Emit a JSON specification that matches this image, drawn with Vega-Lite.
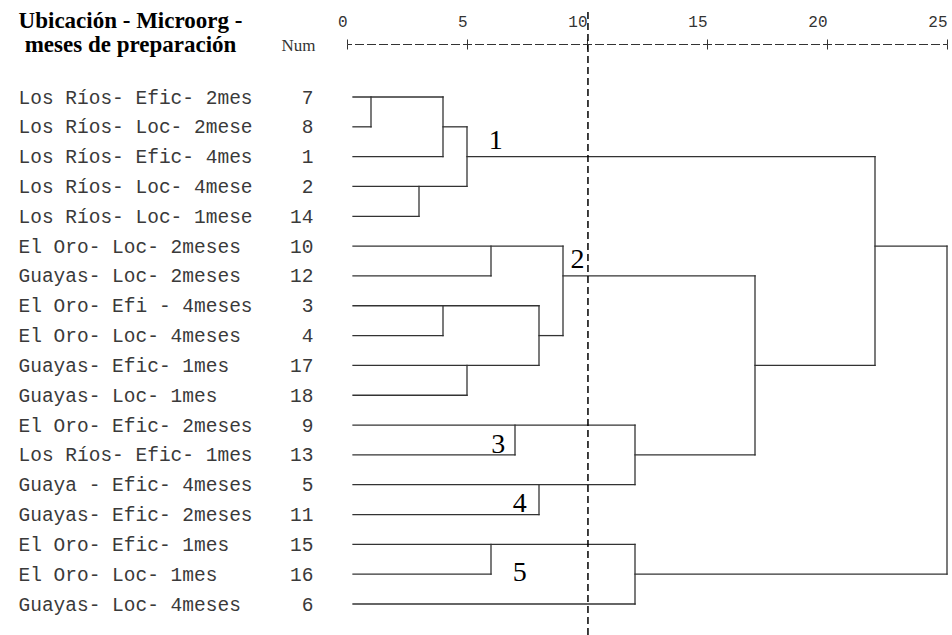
{
  "$schema": "https://vega.github.io/schema/vega-lite/v6.json",
  "width": 600,
  "height": 623,
  "autosize": {"type": "none"},
  "padding": {"left": 347, "top": 12, "right": 5, "bottom": 0},
  "background": "white",
  "config": {"view": {"stroke": null}},
  "datasets": {
    "leaves": [
      {"name": "Los Ríos- Efic- 2mes", "num": "7", "from": 0.25, "to": 4},
      {"name": "Los Ríos- Loc- 2mese", "num": "8", "from": 0.25, "to": 1},
      {"name": "Los Ríos- Efic- 4mes", "num": "1", "from": 0.25, "to": 4},
      {"name": "Los Ríos- Loc- 4mese", "num": "2", "from": 0.25, "to": 5},
      {"name": "Los Ríos- Loc- 1mese", "num": "14", "from": 0.25, "to": 3},
      {"name": "El Oro- Loc- 2meses", "num": "10", "from": 0.25, "to": 9},
      {"name": "Guayas- Loc- 2meses", "num": "12", "from": 0.25, "to": 6},
      {"name": "El Oro- Efi - 4meses", "num": "3", "from": 0.25, "to": 8},
      {"name": "El Oro- Loc- 4meses", "num": "4", "from": 0.25, "to": 4},
      {"name": "Guayas- Efic- 1mes", "num": "17", "from": 0.25, "to": 8},
      {"name": "Guayas- Loc- 1mes", "num": "18", "from": 0.25, "to": 5},
      {"name": "El Oro- Efic- 2meses", "num": "9", "from": 0.25, "to": 12},
      {"name": "Los Ríos- Efic- 1mes", "num": "13", "from": 0.25, "to": 7},
      {"name": "Guaya - Efic- 4meses", "num": "5", "from": 0.25, "to": 12},
      {"name": "Guayas- Efic- 2meses", "num": "11", "from": 0.25, "to": 8},
      {"name": "El Oro- Efic- 1mes", "num": "15", "from": 0.25, "to": 12},
      {"name": "El Oro- Loc- 1mes", "num": "16", "from": 0.25, "to": 6},
      {"name": "Guayas- Loc- 4meses", "num": "6", "from": 0.25, "to": 12}
    ],
    "links": [
      {"x": 4, "x2": 5, "y": 1, "y2": 1},
      {"x": 5, "x2": 22, "y": 2, "y2": 2},
      {"x": 8, "x2": 9, "y": 8, "y2": 8},
      {"x": 9, "x2": 17, "y": 6, "y2": 6},
      {"x": 17, "x2": 22, "y": 9, "y2": 9},
      {"x": 12, "x2": 17, "y": 12, "y2": 12},
      {"x": 12, "x2": 25, "y": 16, "y2": 16},
      {"x": 22, "x2": 25, "y": 5, "y2": 5},
      {"x": 1, "x2": 1, "y": 0, "y2": 1},
      {"x": 4, "x2": 4, "y": 0, "y2": 2},
      {"x": 3, "x2": 3, "y": 3, "y2": 4},
      {"x": 5, "x2": 5, "y": 1, "y2": 3},
      {"x": 6, "x2": 6, "y": 5, "y2": 6},
      {"x": 4, "x2": 4, "y": 7, "y2": 8},
      {"x": 5, "x2": 5, "y": 9, "y2": 10},
      {"x": 8, "x2": 8, "y": 7, "y2": 9},
      {"x": 9, "x2": 9, "y": 5, "y2": 8},
      {"x": 7, "x2": 7, "y": 11, "y2": 12},
      {"x": 8, "x2": 8, "y": 13, "y2": 14},
      {"x": 12, "x2": 12, "y": 11, "y2": 13},
      {"x": 6, "x2": 6, "y": 15, "y2": 16},
      {"x": 12, "x2": 12, "y": 15, "y2": 17},
      {"x": 17, "x2": 17, "y": 6, "y2": 12},
      {"x": 22, "x2": 22, "y": 2, "y2": 9},
      {"x": 25, "x2": 25, "y": 5, "y2": 16}
    ],
    "clusters": [
      {"label": "1", "d": 6.2, "row": 1.48},
      {"label": "2", "d": 9.6, "row": 5.47},
      {"label": "3", "d": 6.3, "row": 11.67},
      {"label": "4", "d": 7.2, "row": 13.65},
      {"label": "5", "d": 7.2, "row": 15.95}
    ],
    "cut": [{"d": 10.04}]
  },
  "layer": [
    {
      "data": {"name": "links"},
      "mark": {"type": "rule", "color": "#333", "strokeWidth": 1.3, "strokeCap": "square"},
      "encoding": {
        "x": {
          "field": "x", "type": "quantitative",
          "scale": {"domain": [0, 25], "nice": false},
          "axis": {
            "orient": "top", "offset": -32, "values": [0, 5, 10, 15, 20, 25],
            "title": null, "grid": false,
            "domain": true, "domainColor": "#333", "domainWidth": 1,
            "domainDash": [9, 3], "domainDashOffset": 4.5,
            "ticks": true, "tickSize": 5, "tickColor": "#333", "tickWidth": 1,
            "labelFont": "Liberation Mono", "labelFontSize": 16, "labelColor": "#333",
            "labelAlign": "right", "labelDx": 5, "labelPadding": 10,
            "labelFlush": false, "labelOverlap": false
          }
        },
        "x2": {"field": "x2"},
        "y": {"field": "y", "type": "quantitative", "scale": {"domain": [0, 17], "range": [85, 592], "nice": false, "zero": false}, "axis": null},
        "y2": {"field": "y2"}
      }
    },
    {
      "data": {"name": "leaves"},
      "mark": {"type": "rule", "color": "#333", "strokeWidth": 1.3, "strokeCap": "square"},
      "encoding": {
        "x": {
          "field": "from", "type": "quantitative",
          "scale": {"domain": [0, 25], "nice": false},
          "axis": {
            "orient": "top", "offset": -32, "values": [0, 5, 10, 15, 20, 25],
            "title": null, "grid": false, "domain": false, "labels": false,
            "ticks": true, "tickSize": -5, "tickColor": "#333", "tickWidth": 1
          }
        },
        "x2": {"field": "to"},
        "y": {
          "field": "name", "type": "nominal", "sort": null,
          "scale": {"type": "point", "range": [85, 592], "padding": 0},
          "axis": {
            "orient": "left", "domain": false, "ticks": false, "tickSize": 0,
            "labelAlign": "left", "labelPadding": 329, "labelLimit": 400,
            "labelFont": "Liberation Mono", "labelFontSize": 19.5, "labelColor": "#3a3a3a",
            "title": ["Ubicación -  Microorg -", "meses de preparación"],
            "titleAngle": 0, "titleX": -217, "titleY": 15,
            "titleAlign": "center", "titleBaseline": "alphabetic",
            "titleFont": "Liberation Serif", "titleFontSize": 23, "titleFontWeight": "bold",
            "titleLineHeight": 24, "titleColor": "#000"
          }
        }
      }
    },
    {
      "data": {"name": "leaves"},
      "mark": {"type": "point", "opacity": 0},
      "encoding": {
        "y": {
          "field": "num", "type": "nominal", "sort": null,
          "scale": {"type": "point", "range": [85, 592], "padding": 0},
          "axis": {
            "orient": "left", "domain": false, "ticks": false, "tickSize": 0,
            "labelAlign": "right", "labelPadding": 34,
            "labelFont": "Liberation Mono", "labelFontSize": 19.5, "labelColor": "#3a3a3a",
            "title": "Num", "titleAngle": 0, "titleX": -49, "titleY": 38,
            "titleAlign": "center", "titleBaseline": "alphabetic",
            "titleFont": "Liberation Serif", "titleFontSize": 17, "titleFontWeight": "normal",
            "titleColor": "#333"
          }
        }
      }
    },
    {
      "data": {"name": "clusters"},
      "mark": {"type": "text", "font": "Liberation Serif", "fontSize": 28, "color": "#000", "align": "center", "baseline": "middle"},
      "encoding": {
        "x": {"field": "d", "type": "quantitative", "scale": {"domain": [0, 25], "nice": false}, "axis": null},
        "y": {"field": "row", "type": "quantitative", "scale": {"domain": [0, 17], "range": [85, 592], "nice": false, "zero": false}, "axis": null},
        "text": {"field": "label"}
      }
    },
    {
      "data": {"name": "cut"},
      "mark": {"type": "rule", "color": "#000", "strokeWidth": 1.5, "strokeDash": [7, 4]},
      "encoding": {
        "x": {"field": "d", "type": "quantitative", "scale": {"domain": [0, 25], "nice": false}, "axis": null}
      }
    }
  ],
  "resolve": {
    "scale": {"y": "independent"},
    "axis": {"x": "independent", "y": "independent"}
  }
}
